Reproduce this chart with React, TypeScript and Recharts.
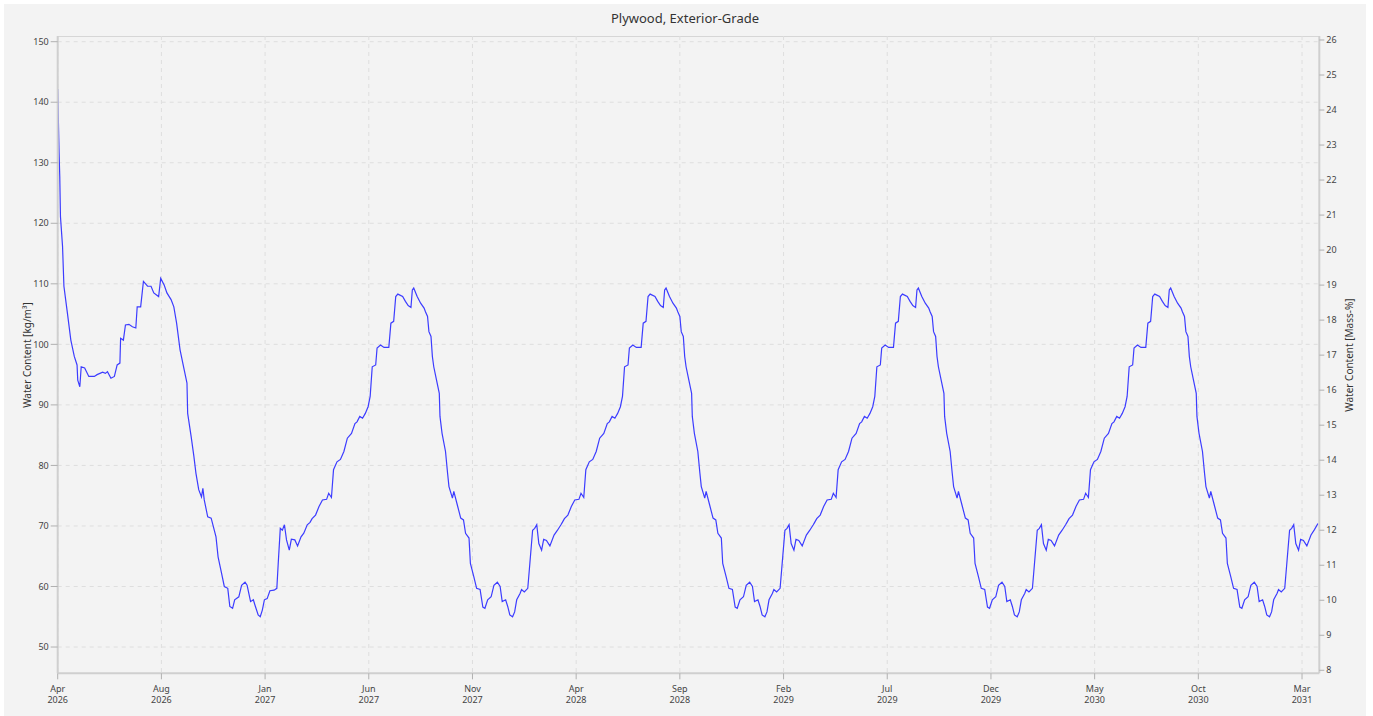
import React from 'react';
import { LineChart, Line, XAxis, YAxis, CartesianGrid } from 'recharts';

// First simulation year (days since 1 Apr 2026) and water content [kg/m³]
const year1Days = [
  0, 2, 3, 4, 7, 9, 14, 19, 24, 28,
  29, 32, 34, 39, 45, 53, 57, 65, 69, 72,
  77, 82, 86, 90, 91, 95, 98, 103, 108, 113,
  115, 120, 124, 130, 135, 139, 146, 149, 154, 158,
  164, 168, 172, 177, 183, 187, 188, 193, 197, 200,
  204, 208, 210, 212, 217, 222, 229, 232, 237, 241,
  246, 249, 253, 256, 262, 266, 271, 274, 279, 283,
  286, 290, 293, 296, 299, 303, 307, 313, 317, 319,
  322, 325, 328, 331, 335, 338, 343, 347, 352, 356,
  361,
];
const year1Values = [
  142.2, 131.6, 127.7, 121.1, 116.2, 109.6, 105.2, 100.7, 98.0, 96.6,
  94.1, 93.0, 96.3, 96.1, 94.7, 94.7, 95.0, 95.4, 95.2, 95.5,
  94.4, 94.7, 96.6, 96.9, 101.0, 100.7, 103.2, 103.3, 102.9, 102.7,
  106.2, 106.2, 110.4, 109.6, 109.6, 108.5, 107.9, 110.9, 109.8, 108.5,
  107.4, 106.2, 103.5, 99.1, 95.8, 93.6, 88.6, 84.8, 81.5, 78.7,
  76.0, 74.8, 76.2, 74.3, 71.5, 71.3, 68.2, 64.9, 62.2, 60.0,
  59.7, 56.7, 56.4, 57.8, 58.3, 60.2, 60.7, 60.2, 57.5, 57.8,
  56.7, 55.3, 55.0, 56.1, 57.8, 58.0, 59.3, 59.4, 59.7, 63.8,
  69.6, 69.3, 70.2, 67.7, 66.0, 67.8, 67.7, 66.7, 68.2, 68.8,
  70.2,
];

// Later years: day within the simulation year (from 1 Apr)
const cycleDays = [
  0, 3, 8, 13, 18, 24, 27, 31, 34, 39,
  44, 49, 54, 60, 65, 68, 72, 76, 80, 84,
  87, 90, 95, 97, 102, 107, 114, 117, 121, 124,
  127, 134, 138, 142, 146, 148, 150, 155, 160, 165,
  167, 170, 172, 175, 177, 179, 183, 187, 188, 191,
  196, 199, 201, 206, 208, 213, 218, 222, 225, 230,
  232, 237, 241, 246, 250, 253, 257, 262, 266, 271,
  275, 278, 283, 286, 289, 293, 296, 299, 304, 306,
  310, 315, 318, 322, 325, 328, 331, 335, 338, 342,
  347, 353, 358, 363,
];
const year2Values = [
  70.6, 71.2, 71.8, 73.2, 74.3, 74.4, 75.4, 74.7, 79.3, 80.6,
  81.0, 82.3, 84.5, 85.3, 86.9, 87.2, 88.1, 87.8, 88.6, 89.7,
  91.4, 96.3, 96.6, 99.4, 99.9, 99.5, 99.5, 103.5, 103.8, 107.9,
  108.3, 107.9, 107.1, 106.4, 106.1, 109.0, 109.3, 107.9, 106.8, 106.0,
  105.4, 104.6, 102.1, 101.3, 98.0, 96.3, 94.1, 91.9, 88.1, 85.3,
  82.3, 78.7, 76.5, 74.6, 75.7, 73.5, 71.3, 71.0, 68.8, 68.0,
  63.8, 61.6, 59.7, 59.5, 56.6, 56.4, 57.8, 58.3, 60.2, 60.7,
  60.0, 57.5, 57.8, 56.7, 55.3, 55.0, 55.8, 57.8, 58.9, 59.5,
  59.1, 59.7, 63.8, 69.3, 69.6, 70.2, 67.1, 66.0, 67.8, 67.6,
  66.7, 68.5, 69.3, 70.2,
];
const year3Values = [
  70.6, 71.2, 71.8, 73.2, 74.3, 74.4, 75.4, 74.7, 79.3, 80.6,
  81.0, 82.3, 84.5, 85.3, 86.9, 87.2, 88.1, 87.8, 88.6, 89.7,
  91.4, 96.3, 96.6, 99.4, 99.9, 99.5, 99.5, 103.5, 103.8, 107.9,
  108.3, 107.9, 107.1, 106.4, 106.1, 109.0, 109.3, 107.9, 106.8, 106.0,
  105.4, 104.6, 102.1, 101.3, 98.0, 96.3, 94.1, 91.9, 88.1, 85.3,
  82.3, 78.7, 76.5, 74.6, 75.7, 73.5, 71.3, 71.0, 68.8, 68.0,
  63.8, 61.6, 59.7, 59.5, 56.6, 56.4, 57.8, 58.3, 60.2, 60.7,
  60.0, 57.5, 57.8, 56.7, 55.3, 55.0, 55.8, 57.8, 58.9, 59.5,
  59.1, 59.7, 63.8, 69.3, 69.6, 70.2, 67.1, 66.0, 67.8, 67.6,
  66.7, 68.5, 69.3, 70.2,
];
const year4Values = [
  70.6, 71.2, 71.8, 73.2, 74.3, 74.4, 75.4, 74.7, 79.3, 80.6,
  81.0, 82.3, 84.5, 85.3, 86.9, 87.2, 88.1, 87.8, 88.6, 89.7,
  91.4, 96.3, 96.6, 99.4, 99.9, 99.5, 99.5, 103.5, 103.8, 107.9,
  108.3, 107.9, 107.1, 106.4, 106.1, 109.0, 109.3, 107.9, 106.8, 106.0,
  105.4, 104.6, 102.1, 101.3, 98.0, 96.3, 94.1, 91.9, 88.1, 85.3,
  82.3, 78.7, 76.5, 74.6, 75.7, 73.5, 71.3, 71.0, 68.8, 68.0,
  63.8, 61.6, 59.7, 59.5, 56.6, 56.4, 57.8, 58.3, 60.2, 60.7,
  60.0, 57.5, 57.8, 56.7, 55.3, 55.0, 55.8, 57.8, 58.9, 59.5,
  59.1, 59.7, 63.8, 69.3, 69.6, 70.2, 67.1, 66.0, 67.8, 67.6,
  66.7, 68.5, 69.3, 70.2,
];
const year5Values = [
  70.6, 71.2, 71.8, 73.2, 74.3, 74.4, 75.4, 74.7, 79.3, 80.6,
  81.0, 82.3, 84.5, 85.3, 86.9, 87.2, 88.1, 87.8, 88.6, 89.7,
  91.4, 96.3, 96.6, 99.4, 99.9, 99.5, 99.5, 103.5, 103.8, 107.9,
  108.3, 107.9, 107.1, 106.4, 106.1, 109.0, 109.3, 107.9, 106.8, 106.0,
  105.4, 104.6, 102.1, 101.3, 98.0, 96.3, 94.1, 91.9, 88.1, 85.3,
  82.3, 78.7, 76.5, 74.6, 75.7, 73.5, 71.3, 71.0, 68.8, 68.0,
  63.8, 61.6, 59.7, 59.5, 56.6, 56.4, 57.8, 58.3, 60.2, 60.7,
  60.0, 57.5, 57.8, 56.7, 55.3, 55.0, 55.8, 57.8, 58.9, 59.5,
  59.1, 59.7, 63.8, 69.3, 69.6, 70.2, 67.1, 66.0, 67.8, 67.6,
  66.7, 68.5, 69.4, 70.4,
];

const yearLength = 365;

const tickDays = [0, 150, 300, 450, 600, 750, 900, 1050, 1200, 1350, 1500, 1650, 1800];
const tickMonths = ['Apr', 'Aug', 'Jan', 'Jun', 'Nov', 'Apr', 'Sep', 'Feb', 'Jul', 'Dec', 'May', 'Oct', 'Mar'];
const tickYears = ['2026', '2026', '2027', '2027', '2027', '2028', '2028', '2029', '2029', '2029', '2030', '2030', '2031'];
const leftTicks = [50, 60, 70, 80, 90, 100, 110, 120, 130, 140, 150];
const rightTicks = [8, 9, 10, 11, 12, 13, 14, 15, 16, 17, 18, 19, 20, 21, 22, 23, 24, 25, 26];

const data: { day: number; wc: number }[] = [];
year1Days.forEach((d, i) => data.push({ day: d, wc: year1Values[i] }));
[year2Values, year3Values, year4Values, year5Values].forEach((vals, k) => {
  cycleDays.forEach((d, i) => data.push({ day: yearLength * (k + 1) + d, wc: vals[i] }));
});

const FONT = '"Segoe UI", "Noto Sans", "Open Sans", sans-serif';
const TICK_COLOR = '#444';
const AXIS_COLOR = '#cfcfcf';

const XTick = (props: any) => {
  const { x, y, payload } = props;
  const i = tickDays.indexOf(payload.value);
  return (
    <g transform={`translate(${x},${y})`}>
      <text x={0} y={10.3} textAnchor="middle" fill={TICK_COLOR} fontSize={9} fontFamily={FONT}>
        {tickMonths[i]}
      </text>
      <text x={0} y={21.8} textAnchor="middle" fill={TICK_COLOR} fontSize={9} fontFamily={FONT}>
        {tickYears[i]}
      </text>
    </g>
  );
};

export default function App() {
  return (
    <div style={{ position: 'absolute', left: 0, top: 0, width: 1373, height: 716, background: '#ffffff', overflow: 'hidden' }}>
      <div style={{ position: 'absolute', left: 4, top: 4, width: 1362, height: 712, background: '#f3f3f3' }}>
        <div
          style={{
            position: 'absolute',
            left: 53.7,
            top: 32,
            width: 1261.6,
            height: 637.3,
            borderTop: '1px solid #d6d6d6',
            boxSizing: 'border-box',
          }}
        />
        <div
          style={{
            position: 'absolute',
            left: 0,
            top: 4,
            width: 1362,
            textAlign: 'center',
            fontFamily: FONT,
            fontSize: 13,
            lineHeight: '20px',
            color: '#333',
          }}
        >
          Plywood, Exterior-Grade
        </div>
        <div
          style={{
            position: 'absolute',
            left: 23 - 150,
            top: 351 - 7,
            width: 300,
            height: 14,
            lineHeight: '14px',
            textAlign: 'center',
            transform: 'rotate(-90deg)',
            fontFamily: FONT,
            fontSize: 10,
            color: '#333',
          }}
        >
          Water Content [kg/m³]
        </div>
        <div
          style={{
            position: 'absolute',
            left: 1345 - 150,
            top: 351 - 7,
            width: 300,
            height: 14,
            lineHeight: '14px',
            textAlign: 'center',
            transform: 'rotate(-90deg)',
            fontFamily: FONT,
            fontSize: 10,
            color: '#333',
          }}
        >
          Water Content [Mass-%]
        </div>
        <div style={{ position: 'absolute', left: 0, top: 0 }}>
          <LineChart width={1362} height={712} data={data} margin={{ top: 32, right: 0, bottom: 0, left: 0 }}>
            <CartesianGrid
              xAxisId="x"
              yAxisId="left"
              stroke="#dedede"
              strokeDasharray="4 4"
              horizontalValues={leftTicks}
              verticalValues={tickDays}
            />
            <XAxis
              xAxisId="x"
              dataKey="day"
              type="number"
              domain={[0, 1825]}
              ticks={tickDays}
              allowDataOverflow
              height={42.7}
              tickSize={6}
              tickMargin={2}
              stroke={AXIS_COLOR}
              axisLine={{ stroke: AXIS_COLOR, strokeWidth: 2 }}
              tickLine={{ stroke: '#b0b0b0' }}
              tick={<XTick />}
              interval={0}
            />
            <YAxis
              yAxisId="left"
              orientation="left"
              type="number"
              domain={[45.66, 150.94]}
              ticks={leftTicks}
              allowDataOverflow
              width={53.7}
              tickSize={7}
              tickMargin={2}
              axisLine={{ stroke: AXIS_COLOR, strokeWidth: 2 }}
              tickLine={{ stroke: '#b0b0b0' }}
              tick={{ fill: TICK_COLOR, fontSize: 9, fontFamily: FONT }}
              interval={0}
            />
            <YAxis
              yAxisId="right"
              orientation="right"
              type="number"
              domain={[7.914, 26.114]}
              ticks={rightTicks}
              allowDataOverflow
              width={46.7}
              tickSize={5}
              tickMargin={2}
              axisLine={{ stroke: AXIS_COLOR, strokeWidth: 2 }}
              tickLine={{ stroke: '#b0b0b0' }}
              tick={{ fill: TICK_COLOR, fontSize: 9, fontFamily: FONT }}
              interval={0}
            />
            <Line
              xAxisId="x"
              yAxisId="left"
              type="linear"
              dataKey="wc"
              stroke="#3c3cff"
              strokeWidth={1.2}
              dot={false}
              isAnimationActive={false}
            />
          </LineChart>
        </div>
      </div>
    </div>
  );
}
